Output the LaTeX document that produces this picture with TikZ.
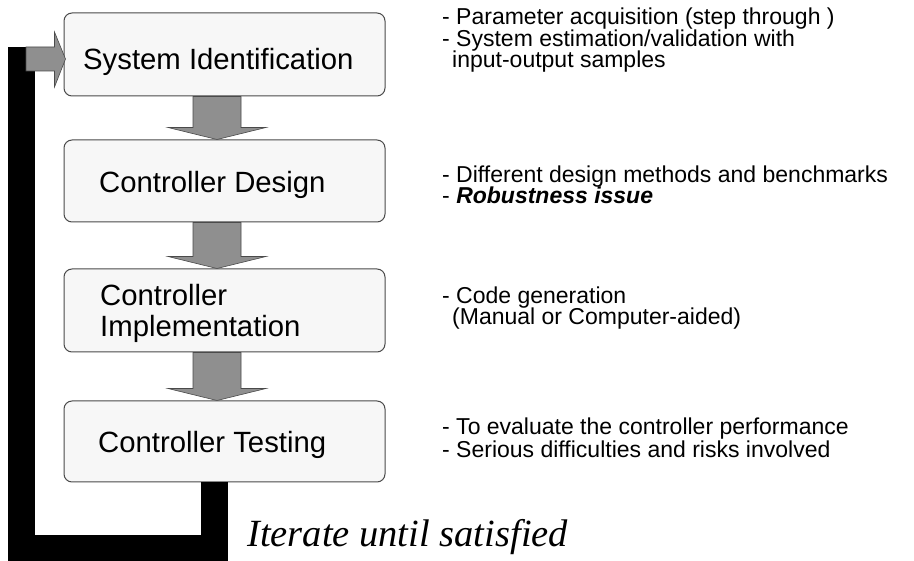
\documentclass[tikz,border=0pt]{standalone}
\usepackage{fontspec}
\setmainfont{Liberation Sans}
\newfontfamily\timesfont{Liberation Serif}
\usetikzlibrary{calc}
\definecolor{boxfill}{HTML}{F7F7F7}
\definecolor{boxline}{HTML}{4A4A4A}
\definecolor{arrowfill}{HTML}{8F8F8F}
\newcommand\blockdown[2]{%
  \draw[blockarrow] ($(#1.south)+(-31.5,0)$) -- ($(#1.south)+(16.5,0)$)
    -- ($(#2.north)+(16.5,-12)$) -- ($(#2.north)+(41.5,-12)$)
    -- ($(#2.north)+(-7.5,0)$) -- ($(#2.north)+(-56.5,-12)$)
    -- ($(#2.north)+(-31.5,-12)$) -- cycle;}
\begin{document}
\begin{tikzpicture}[x=1pt,y=-1pt,
  stage/.style={draw=boxline, line width=1pt, fill=boxfill, rounded corners=8pt,
    minimum width=321pt, minimum height=83pt, inner sep=0pt},
  boxtext/.style={anchor=base west, font=\fontsize{29.3}{34}\selectfont, inner sep=0pt},
  note/.style={anchor=base west, font=\fontsize{23}{26}\selectfont, inner sep=0pt},
  blockarrow/.style={fill=arrowfill, draw=boxline, line width=0.6pt, line join=miter},
  loop/.style={line width=27pt, line join=miter, line cap=butt, draw=black}]
\useasboundingbox (0,0) rectangle (914,561);
\fill[white] (0,0) rectangle (914,561);

% stage boxes
\node[stage] (b1) at (224.5,54.5) {};
\node[stage, minimum height=82pt] (b2) at (224.5,181) {};
\node[stage] (b3) at (224.5,310.5) {};
\node[stage, minimum height=81pt] (b4) at (224.5,441.5) {};

% feedback loop
\coordinate (loopL) at (21.5,47);
\draw[loop] ($(b4.south)+(-10,0)$) -- ++(0,65.5) -| (loopL);
\draw[blockarrow] (26,47) -- ($(b1.west)+(-9,-7.5)$) -- ($(b1.west)+(-9,-22.5)$)
  -- ($(b1.west)+(2,4.5)$) -- ($(b1.west)+(-9,32.5)$) -- ($(b1.west)+(-9,16.5)$)
  -- (26,71) -- cycle;

% down arrows
\blockdown{b1}{b2}
\blockdown{b2}{b3}
\blockdown{b3}{b4}

% box texts
\node[boxtext] (t1) at (83,70) {System Identification};
\node[boxtext] (t2) at (99,193) {Controller Design};
\node[boxtext] (t3a) at (100,306) {Controller};
\node[boxtext] (t3b) at (100,337) {Implementation};
\node[boxtext] (t4) at (98,453) {Controller Testing};

% notes
\node[note] (n1a) at (442,25) {- Parameter acquisition (step through )};
\node[note] (n1b) at (442,47) {- System estimation/validation with};
\node[note] (n1c) at (452,68) {input-output samples};
\node[note] (n2a) at (442,183) {- Different design methods and benchmarks};
\node[note] (n2b) at (442,204) {- \textbf{\textit{Robustness issue}}};
\node[note] (n3a) at (442,304) {- Code generation};
\node[note] (n3b) at (452,325) {(Manual or Computer-aided)};
\node[note] (n4a) at (442,435) {- To evaluate the controller performance};
\node[note] (n4b) at (442,457) {- Serious difficulties and risks involved};

\node[anchor=base west, inner sep=0pt, font=\timesfont\itshape\fontsize{38.5}{44}\selectfont] (it) at (247,547) {Iterate until satisfied};
\end{tikzpicture}
\end{document}
